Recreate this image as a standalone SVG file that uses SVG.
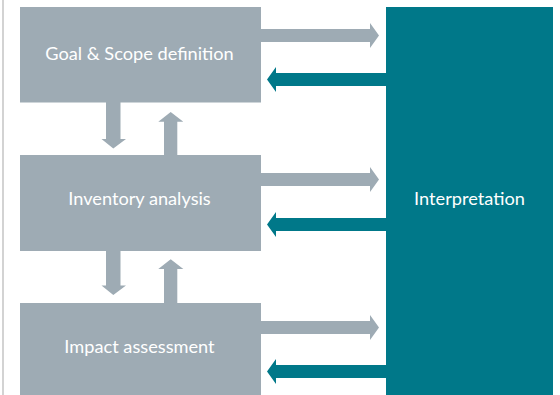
<svg xmlns="http://www.w3.org/2000/svg" width="560" height="395" viewBox="0 0 560 395">
<style>
.box{fill:#9eabb4}
.interp{fill:#007889}
.g{fill:#9eabb4}
.t{fill:#007889}
.lbl{font-family:Lato,"Open Sans",sans-serif;font-size:18.2px;fill:#ffffff;text-anchor:middle}
</style>
<rect x="0" y="0" width="560" height="395" fill="#ffffff"/>
<line x1="3" y1="0" x2="3" y2="395" stroke="#c4c4c4" stroke-width="1.5"/>
<g id="connectors">
  <polygon class="g" points="261,29 370,29 370,23 379,35.5 370,48 370,42 261,42"/>
  <polygon class="g" points="261,173 370,173 370,167 379,179.5 370,192 370,186 261,186"/>
  <polygon class="g" points="261,321 370,321 370,315 379,327.5 370,340 370,334 261,334"/>
  <polygon class="t" points="386,73 276,73 276,67 267,79.5 276,92 276,86 386,86"/>
  <polygon class="t" points="386,218 276,218 276,212 267,224.5 276,237 276,231 386,231"/>
  <polygon class="t" points="386,365 276,365 276,359 267,371.5 276,384 276,378 386,378"/>
  <polygon class="g" points="106,102 120.5,102 120.5,139 126,139 113.3,148.5 101.5,139 106,139"/>
  <polygon class="g" points="164,155 177.3,155 177.3,121.7 183.3,121.7 170.7,112 158.3,121.7 164,121.7"/>
  <polygon class="g" points="106,251 120.5,251 120.5,285.5 126,285.5 113.3,295 101.5,285.5 106,285.5"/>
  <polygon class="g" points="164,303 177.3,303 177.3,269 183.3,269 170.7,259.3 158.3,269 164,269"/>
</g>
<g id="goal">
  <rect class="box" x="20" y="7" width="241" height="95.5"/>
  <text class="lbl" x="139.5" y="60">Goal &amp; Scope definition</text>
</g>
<g id="inventory">
  <rect class="box" x="20" y="155" width="241" height="96"/>
  <text class="lbl" x="139.5" y="205">Inventory analysis</text>
</g>
<g id="impact">
  <rect class="box" x="20" y="303" width="241" height="92"/>
  <text class="lbl" x="139.5" y="352.5">Impact assessment</text>
</g>
<g id="interpretation">
  <rect class="interp" x="386" y="7" width="167" height="388"/>
  <text class="lbl" x="469.5" y="205">Interpretation</text>
</g>
</svg>
